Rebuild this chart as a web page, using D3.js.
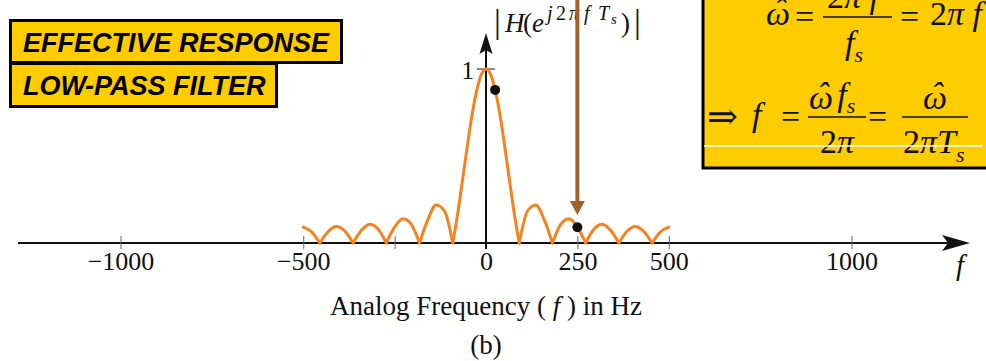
<!DOCTYPE html>
<html lang="en">
<head>
  <meta charset="utf-8">
  <title>Effective response low-pass filter</title>
  <script src="https://cdnjs.cloudflare.com/ajax/libs/d3/7.8.5/d3.min.js"></script>
  <style>
    body { margin: 0; background: #fff; }
    .serif { font-family: "Liberation Serif", "Times New Roman", serif; fill: #111; }
    .banner { font-family: "Liberation Sans", Arial, sans-serif; font-weight: bold; font-style: italic; font-size: 27px; fill: #000; }
    .curve { fill: none; stroke: #f5821f; stroke-width: 3; stroke-linecap: round; stroke-linejoin: round; }
  </style>
</head>
<body>
<svg id="chart" width="986" height="361"></svg>
<script>
// magnitude |H|, -500..500 Hz
var freqHz = [-500, -477.3, -454.5, -431.8, -409.1, -386.4, -363.6, -340.9, -318.2, -295.5, -272.7,
  -250, -227.3, -204.5, -181.8, -159.1, -136.4, -113.6, -90.9,
  -79.5, -68.2, -56.8, -45.5, -34.1, -22.7, -11.4, 0, 11.4, 22.7, 34.1, 45.5, 56.8, 68.2, 79.5, 90.9,
  113.6, 136.4, 159.1, 181.8, 204.5, 227.3, 250, 272.7,
  295.5, 318.2, 340.9, 363.6, 386.4, 409.1, 431.8, 454.5, 477.3, 500];
var magnitude = [0.091, 0.064, 0, 0.066, 0.095, 0.069, 0, 0.073, 0.108, 0.080, 0,
  0.091, 0.139, 0.107, 0, 0.134, 0.219, 0.184, 0,
  0.141, 0.302, 0.473, 0.639, 0.786, 0.900, 0.975, 1, 0.975, 0.900, 0.786, 0.639, 0.473, 0.302, 0.141, 0,
  0.184, 0.219, 0.134, 0, 0.107, 0.139, 0.091, 0,
  0.080, 0.108, 0.073, 0, 0.069, 0.095, 0.066, 0, 0.064, 0.091];

var markFreq = [25, 250];
var markMag = [0.88, 0.091];

var tickFreqs = [-1000, -500, -250, 250, 500, 1000];
var labelFreqs = [-1000, -500, 0, 250, 500, 1000];
var labelText = ["\u22121000", "\u2212500", "0", "250", "500", "1000"];

var arrowFreq = 250;

var svg = d3.select("#chart");

var x = d3.scaleLinear().domain([-1000, 1000]).range([120.5, 851.5]);
var y = d3.scaleLinear().domain([0, 1]).range([243, 69]);

// banners top-left
svg.append("rect").attr("x", 10.5).attr("y", 20.5).attr("width", 331).attr("height", 42)
  .attr("fill", "#ffcc00").attr("stroke", "#000").attr("stroke-width", 3);
svg.append("rect").attr("x", 10.5).attr("y", 63.5).attr("width", 266).attr("height", 43)
  .attr("fill", "#ffcc00").attr("stroke", "#000").attr("stroke-width", 3);
svg.append("text").attr("class", "banner").attr("x", 23).attr("y", 52).text("EFFECTIVE RESPONSE");
svg.append("text").attr("class", "banner").attr("x", 23).attr("y", 95).text("LOW-PASS FILTER");

// formula box top-right
svg.append("rect").attr("x", 703).attr("y", -5).attr("width", 290).attr("height", 173)
  .attr("fill", "#ffcc00").attr("stroke", "#000").attr("stroke-width", 3);

var fg = svg.append("g").attr("class", "serif").style("font-size", "34px");
// omega with a hat, kept in one text element
var omegaHat = '\u03c9<tspan dx="-16" dy="-3">\u02c6</tspan><tspan dx="5" dy="3"></tspan>';
function bar(x1, x2, yy) {
  fg.append("line").attr("x1", x1).attr("x2", x2).attr("y1", yy).attr("y2", yy)
    .attr("stroke", "#111").attr("stroke-width", 1.6);
}
// row 1
fg.append("text").attr("x", 766).attr("y", 25).style("font-style", "italic").html(omegaHat);
fg.append("text").attr("x", 795).attr("y", 28).text("=");
fg.append("text").attr("x", 827).attr("y", 8).html('2<tspan font-style="italic">\u03c0 f</tspan>');
bar(823, 892, 17);
fg.append("text").attr("x", 845).attr("y", 54).style("font-style", "italic")
  .html('f<tspan dy="8" style="font-size:22px">s</tspan>');
fg.append("text").attr("x", 900).attr("y", 28).text("=");
fg.append("text").attr("x", 930).attr("y", 25).html('2<tspan font-style="italic">\u03c0 f</tspan>');
// row 2
fg.append("text").attr("x", 707).attr("y", 129).style("font-family", "DejaVu Serif").style("font-size", "37px").text("\u21d2");
fg.append("text").attr("x", 752).attr("y", 126).style("font-style", "italic").text("f");
fg.append("text").attr("x", 781).attr("y", 128).text("=");
fg.append("text").attr("x", 809).attr("y", 109).style("font-style", "italic")
  .html(omegaHat + '<tspan dx="9">f</tspan><tspan dy="7" style="font-size:22px">s</tspan>');
bar(808, 866, 117);
fg.append("text").attr("x", 820).attr("y", 153).html('2<tspan font-style="italic">\u03c0</tspan>');
fg.append("text").attr("x", 868).attr("y", 128).text("=");
fg.append("text").attr("x", 923).attr("y", 109).style("font-style", "italic").html(omegaHat);
bar(902, 968, 117);
fg.append("text").attr("x", 903).attr("y", 153)
  .html('2<tspan font-style="italic">\u03c0T</tspan><tspan dy="9" font-style="italic" style="font-size:22px">s</tspan>');
svg.append("line").attr("x1", 704).attr("x2", 983).attr("y1", 146).attr("y2", 146)
  .attr("stroke", "#fff").attr("stroke-width", 1.5);

// x axis line and arrow
svg.append("line").attr("x1", 18).attr("x2", 950).attr("y1", y(0)).attr("y2", y(0))
  .attr("stroke", "#111").attr("stroke-width", 2);
svg.append("path").attr("d", "M970,243 L942,235 L948,243 L942,251 Z").attr("fill", "#111");

// tick marks
var tickAxis = d3.axisBottom(x).tickValues(tickFreqs).tickSizeInner(6).tickSizeOuter(0).tickFormat("");
var tg = svg.append("g").attr("transform", "translate(0," + y(0) + ")").call(tickAxis);
tg.select(".domain").remove();
tg.selectAll(".tick line").attr("y1", -7).attr("y2", 6).attr("stroke", "#666").attr("stroke-width", 1);

// tick labels
var labAxis = d3.axisBottom(x).tickValues(labelFreqs).tickSize(0)
  .tickFormat(function (d, i) { return labelText[i]; });
var lg = svg.append("g").attr("transform", "translate(0," + y(0) + ")").call(labAxis);
lg.select(".domain").remove();
lg.selectAll(".tick text").attr("y", 27).attr("dy", null)
  .attr("font-family", "Liberation Serif, Times New Roman, serif").attr("font-size", 26).attr("fill", "#111");

svg.append("text").attr("class", "serif").attr("x", 960).attr("y", 275).attr("text-anchor", "middle")
  .style("font-size", "29px").style("font-style", "italic").text("f");

// vertical axis
svg.append("line").attr("x1", x(0)).attr("x2", x(0)).attr("y1", 249).attr("y2", 50)
  .attr("stroke", "#111").attr("stroke-width", 2);
svg.append("path").attr("d", "M486,33 L479.5,54 L486,50 L492.5,54 Z").attr("fill", "#111");
svg.append("line").attr("x1", 477).attr("x2", 495).attr("y1", y(1)).attr("y2", y(1))
  .attr("stroke", "#111").attr("stroke-width", 1);
svg.append("text").attr("class", "serif").attr("x", 474).attr("y", 79).attr("text-anchor", "end")
  .style("font-size", "25px").text("1");

// |H(e^{j2 pi f Ts})| label
var hl = svg.append("g").attr("class", "serif");
hl.append("text").attr("x", 494).attr("y", 33).style("font-size", "34px").text("|");
hl.append("text").attr("y", 32).style("font-size", "27px")
  .html('<tspan x="505" font-style="italic">H</tspan><tspan x="523">(</tspan>' +
    '<tspan x="532" font-style="italic">e</tspan>' +
    '<tspan x="547" y="20" font-style="italic" style="font-size:20px">j</tspan>' +
    '<tspan x="556" y="20" style="font-size:20px">2</tspan>' +
    '<tspan x="569" y="20" font-style="italic" style="font-size:20px">\u03c0</tspan>' +
    '<tspan x="584" y="20" font-style="italic" style="font-size:20px">f</tspan>' +
    '<tspan x="598" y="20" font-style="italic" style="font-size:20px">T</tspan>' +
    '<tspan x="611" y="24" font-style="italic" style="font-size:15px">s</tspan>' +
    '<tspan x="621" y="32">)</tspan>');
hl.append("text").attr("x", 634).attr("y", 33).style("font-size", "34px").text("|");

// curve, one path per lobe so the zeros stay sharp
var pts = freqHz.map(function (f, i) { return [f, magnitude[i]]; });
var lobes = [];
var cur = [];
pts.forEach(function (p) {
  cur.push(p);
  if (p[1] === 0 && cur.length > 1) {
    lobes.push(cur);
    cur = [p];
  }
});
if (cur.length > 1) lobes.push(cur);

var line = d3.line().x(function (d) { return x(d[0]); }).y(function (d) { return y(d[1]); })
  .curve(d3.curveMonotoneX);
svg.append("g").selectAll("path").data(lobes).enter().append("path")
  .attr("class", "curve").attr("d", line);

// brown arrow at 250 Hz
var tipY = 215;
svg.append("line").attr("x1", x(arrowFreq)).attr("x2", x(arrowFreq)).attr("y1", 0).attr("y2", tipY - 10)
  .attr("stroke", "#a0612b").attr("stroke-width", 4);
svg.append("path")
  .attr("d", "M" + x(arrowFreq) + "," + tipY + " L" + (x(arrowFreq) - 7.5) + "," + (tipY - 14) +
    " L" + (x(arrowFreq) + 7.5) + "," + (tipY - 14) + " Z")
  .attr("fill", "#a0612b");

// dots
svg.append("g").selectAll("circle").data(markFreq).enter().append("circle")
  .attr("cx", function (d) { return x(d); })
  .attr("cy", function (d, i) { return y(markMag[i]); })
  .attr("r", 5).attr("fill", "#111");

// axis title and caption
svg.append("text").attr("class", "serif").attr("x", 486).attr("y", 315).attr("text-anchor", "middle")
  .style("font-size", "27px")
  .html('Analog Frequency ( <tspan font-style="italic">f</tspan> ) in Hz');
svg.append("text").attr("class", "serif").attr("x", 486).attr("y", 354).attr("text-anchor", "middle")
  .style("font-size", "27px").text("(b)");
</script>
</body>
</html>
